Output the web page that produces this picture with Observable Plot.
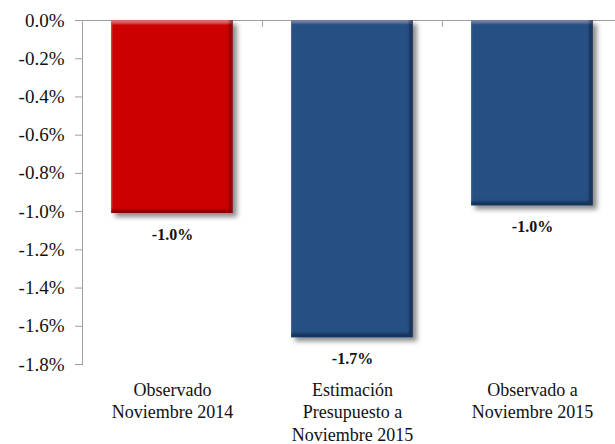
<!DOCTYPE html>
<html><head><meta charset="utf-8">
<script src="https://cdn.jsdelivr.net/npm/d3@7"></script>
<script src="https://cdn.jsdelivr.net/npm/@observablehq/plot@0.6"></script>
<style>
body{margin:0;background:#fff}
#chart{width:615px;height:444px;overflow:hidden}
svg text{font-family:'Liberation Serif','Times New Roman',serif}
</style>
</head><body><div id="chart"></div>
<script>
const categories = ["Observado\nNoviembre 2014", "Estimación\nPresupuesto a\nNoviembre 2015", "Observado a\nNoviembre 2015"];
const values = [-1.01, -1.66, -0.97];
const valueLabels = ["-1.0%", "-1.7%", "-1.0%"];
const barColors = ["#CC0000", "#264F84", "#264F84"];
const yTicks = [0, -0.2, -0.4, -0.6, -0.8, -1.0, -1.2, -1.4, -1.6, -1.8];
const yTickLabels = ["0.0%", "-0.2%", "-0.4%", "-0.6%", "-0.8%", "-1.0%", "-1.2%", "-1.4%", "-1.6%", "-1.8%"];

const rows = categories.map((c, i) => ({category: c, value: values[i], label: valueLabels[i], color: barColors[i]}));
const font = "'Liberation Serif', 'Times New Roman', serif";

const svg = Plot.plot({
  width: 615,
  height: 444,
  marginTop: 20,
  marginBottom: 80,
  marginLeft: 82,
  marginRight: 0,
  style: {fontFamily: font, fontSize: "18px", color: "#111", background: "#fff"},
  x: {domain: categories, range: [82, 622], paddingInner: 0.32, paddingOuter: 0.16, label: null},
  y: {domain: [-1.8, 0], label: null},
  color: {type: "identity"},
  marks: [
    Plot.frame({anchor: "left", stroke: "#a0a0a0"}),
    Plot.ruleY([0], {stroke: "#a0a0a0"}),
    Plot.ruleX(categories.slice(1), {x: d => d, dx: -90, y1: 0, y2: -0.036, stroke: "#a0a0a0"}),
    Plot.barY(rows, {x: "category", y: "value", fill: "color"}),
    Plot.text(rows, {x: "category", y: "value", text: "label", dy: 21, fontWeight: "bold", fontSize: 16, fontFamily: font, fill: "#111"}),
    Plot.axisY({ticks: yTicks, tickFormat: d => yTickLabels[yTicks.indexOf(d)], tickSize: 7, tickPadding: 11, fontSize: 19, fontFamily: font, stroke: "#a0a0a0", fill: "#111", label: null}),
    Plot.axisX({tickSize: 0, tickPadding: 15, fontSize: 18, fontFamily: font, lineHeight: 1.26, fill: "#111", label: null})
  ]
});

// bevel + drop shadow filter
const defs = d3.select(svg).insert("defs", ":first-child");
const f = defs.append("filter").attr("id", "bevel").attr("x", "-10%").attr("y", "-10%").attr("width", "130%").attr("height", "130%");
f.append("feGaussianBlur").attr("in", "SourceAlpha").attr("stdDeviation", 2.5).attr("result", "blur");
f.append("feOffset").attr("in", "blur").attr("dx", 4).attr("dy", 4).attr("result", "offBlur");
f.append("feFlood").attr("flood-color", "#000").attr("flood-opacity", 0.45).attr("result", "black");
f.append("feComposite").attr("in", "black").attr("in2", "offBlur").attr("operator", "in").attr("result", "shadow");
// inner dark band bottom-right
f.append("feOffset").attr("in", "SourceAlpha").attr("dx", -4).attr("dy", -4).attr("result", "shiftA");
f.append("feGaussianBlur").attr("in", "shiftA").attr("stdDeviation", 1.2).attr("result", "shiftB");
f.append("feComposite").attr("in", "SourceAlpha").attr("in2", "shiftB").attr("operator", "out").attr("result", "brBand");
f.append("feFlood").attr("flood-color", "#000").attr("flood-opacity", 0.55).attr("result", "dk");
f.append("feComposite").attr("in", "dk").attr("in2", "brBand").attr("operator", "in").attr("result", "darkEdge");
// inner light band top
f.append("feOffset").attr("in", "SourceAlpha").attr("dx", 0).attr("dy", 3).attr("result", "shiftC");
f.append("feGaussianBlur").attr("in", "shiftC").attr("stdDeviation", 1).attr("result", "shiftD");
f.append("feComposite").attr("in", "SourceAlpha").attr("in2", "shiftD").attr("operator", "out").attr("result", "tlBand");
f.append("feFlood").attr("flood-color", "#fff").attr("flood-opacity", 0.15).attr("result", "lt");
f.append("feComposite").attr("in", "lt").attr("in2", "tlBand").attr("operator", "in").attr("result", "lightEdge");
const m = f.append("feMerge");
["shadow", "SourceGraphic", "lightEdge", "darkEdge"].forEach(n => m.append("feMergeNode").attr("in", n));

d3.select(svg).selectAll("g[aria-label=bar] rect").attr("filter", "url(#bevel)");
document.getElementById("chart").appendChild(svg);
</script>
</body></html>
